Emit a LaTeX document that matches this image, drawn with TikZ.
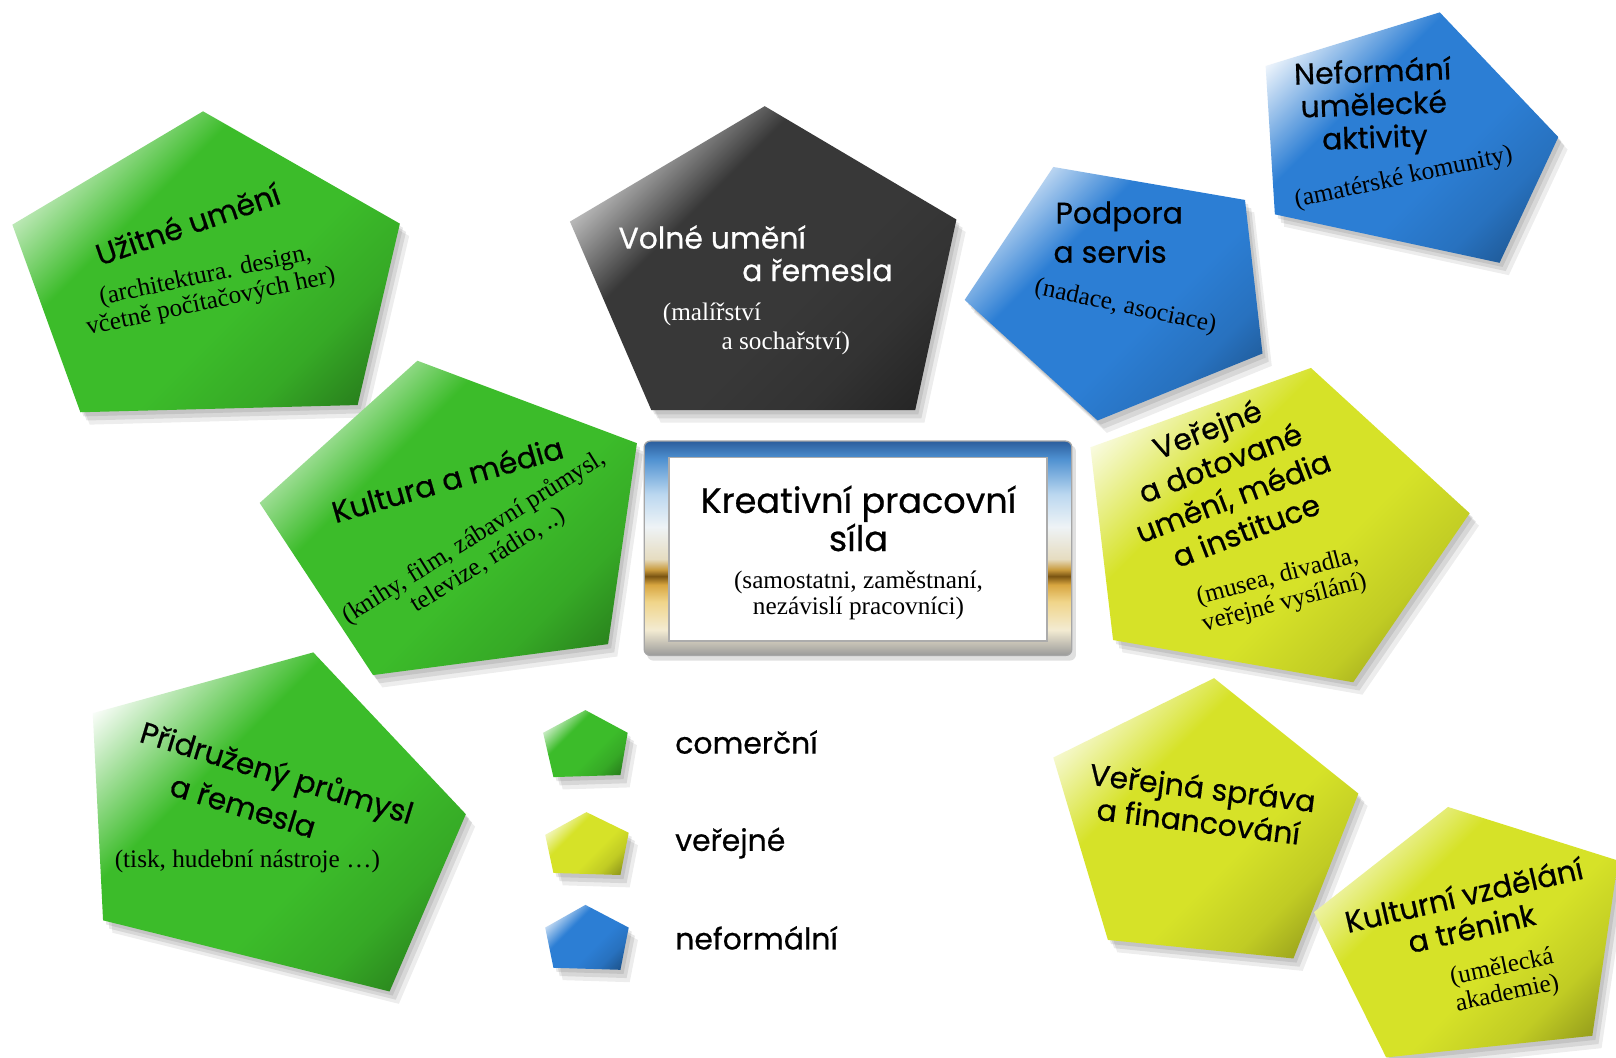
\documentclass[tikz,border=0pt]{standalone}
\usepackage{fontspec}
\setmainfont{Liberation Serif}
\newfontfamily\hfont{Poppins}[FakeBold=0.6]
\definecolor{cgreen}{RGB}{60,188,42}
\definecolor{cyellow}{RGB}{214,226,40}
\definecolor{cblue}{RGB}{44,126,212}
\definecolor{cdark}{RGB}{56,56,56}
\colorlet{pb}{cgreen}
\pgfdeclareverticalshading[pb]{glossy}{100bp}{color(0bp)=(pb!55!black); color(18bp)=(pb!65!black); color(30bp)=(pb!90!black); color(42bp)=(pb); color(62bp)=(pb); color(71bp)=(pb!50!white); color(80bp)=(white); color(100bp)=(white)}
\definecolor{fa}{HTML}{9A9A9A}
\definecolor{fb}{HTML}{F3EBD2}
\definecolor{fc}{HTML}{F0D58A}
\definecolor{fd}{HTML}{D8A640}
\definecolor{fe}{HTML}{7A5412}
\definecolor{ff}{HTML}{C89A3C}
\definecolor{fg}{HTML}{E6DCC0}
\definecolor{fh}{HTML}{EEF3F6}
\definecolor{fi}{HTML}{BCD8F0}
\definecolor{fj}{HTML}{4D8FD0}
\definecolor{fk}{HTML}{2B5E9C}
\pgfdeclareverticalshading{framesh}{100bp}{color(0bp)=(fa); color(25bp)=(fa); color(31bp)=(fb); color(37.5bp)=(fc); color(41.5bp)=(fd); color(43.5bp)=(fe); color(45bp)=(ff); color(47.5bp)=(fg); color(55bp)=(fh); color(62.5bp)=(fi); color(71bp)=(fj); color(75bp)=(fk); color(100bp)=(fk)}
\newcommand{\gpent}[2]{%
  \fill[black,opacity=.09,shift={(3,4)}] #2;
  \fill[black,opacity=.09,shift={(6,8)}] #2;
  \fill[black,opacity=.07,shift={(9,12)}] #2;
  \colorlet{pb}{#1}%
  \shade[shading=glossy,shading angle=45] #2;
}
\tikzset{
  head/.style={font=\hfont\fontsize{29}{33}\selectfont, align=center, inner sep=0pt},
  sub/.style={font=\fontsize{24.5}{26}\selectfont, align=center, inner sep=0pt},
}
\begin{document}
\begin{tikzpicture}[x=1pt,y=-1pt]
\useasboundingbox (0,0) rectangle (1568,1026);
\fill[white] (0,0) rectangle (1568,1026);

% pentagons
\gpent{cgreen}{(197,108)--(388,217)--(347,393)--(78,400)--(12,218)--cycle}
\gpent{cdark}{(742,103)--(928,213)--(888,398)--(632,398)--(553,215)--cycle}
\gpent{cblue}{(1022,162)--(1208,194)--(1225,343)--(1065,408)--(936,291)--cycle}
\gpent{cblue}{(1397,12)--(1512,133)--(1455,255)--(1237,208)--(1228,64)--cycle}
\gpent{cgreen}{(405,350)--(618,430)--(590,625)--(362,655)--(252,488)--cycle}
\gpent{cgreen}{(304,633)--(452,790)--(378,962)--(100,893)--(90,692)--cycle}
\gpent{cyellow}{(1272,357)--(1426,498)--(1313,662)--(1080,621)--(1058,434)--cycle}
\gpent{cyellow}{(1178,658)--(1318,770)--(1255,930)--(1075,912)--(1022,735)--cycle}
\gpent{cyellow}{(1405,783)--(1570,835)--(1545,1005)--(1345,1026)--(1275,885)--cycle}
% legend pentagons
\gpent{cgreen}{(568,689)--(609,711)--(602,752)--(537,754)--(527,711)--cycle}
\gpent{cyellow}{(569,788)--(610,808)--(602,849)--(537,847)--(529,810)--cycle}
\gpent{cblue}{(568,878)--(610,900)--(602,941)--(537,939)--(529,900)--cycle}

% central frame
\fill[black,opacity=.12,rounded corners=6] (628,432) rectangle (1044,641);
\shade[shading=framesh,rounded corners=6] (625,428) rectangle (1040,636);
\draw[gray!70,rounded corners=6,line width=1.2] (625,428) rectangle (1040,636);
\draw[fill=white,draw=gray!65,line width=1.6] (649,444) rectangle (1016,622);

% texts
\node[head,rotate=19] (uz1) at (182,217) {Užitné umění};
\node[sub,rotate=12] (uz2) at (202,281) {(architektura. design,\\včetně počítačových her)};

\node[head,white,anchor=west] (vo1) at (600,230) {Volné umění};
\node[head,white,anchor=west] (vo2) at (720,262) {a řemesla};
\node[sub,white,anchor=west] (vo3) at (643,305) {(malířství};
\node[sub,white,anchor=west] (vo4) at (700,333) {a sochařství)};

\node[head,anchor=west] (po1) at (1024,210) {Podpora};
\node[head,anchor=west] (po2) at (1022,244) {a servis};
\node[sub,rotate=-12] (po3) at (1092,298) {(nadace, asociace)};

\node[head,rotate=2,font=\hfont\fontsize{29}{32}\selectfont] (ne1) at (1333,104) {Neformání\\umělecké\\aktivity};
\node[sub,rotate=12] (ne2) at (1362,173) {(amatérské komunity)};

\node[head,rotate=16] (ku1) at (434,465) {Kultura a média};
\node[sub,rotate=32] (ku2) at (467,533) {(knihy, film, zábavní průmysl,\\televize, rádio, ..)};

\node[head,rotate=21,font=\hfont\fontsize{29}{35}\selectfont] (ve1) at (1190,465) {Veřejné\\a dotované\\umění, média\\a instituce};
\node[sub,rotate=15] (ve2) at (1243,573) {(musea, divadla,\\veřejné vysílání)};

\node[head,rotate=-17] (pr1) at (268,752) {Přidružený průmysl};
\node[head,rotate=-17] (pr2) at (236,782) {a řemesla};
\node[sub] (pr3) at (240,836) {(tisk, hudební nástroje …)};

\node[head,rotate=-7] (vs1) at (1165,780) {Veřejná správa\\a financování};

\node[head,rotate=13] (kv1) at (1424,884) {Kulturní vzdělání\\a trénink};
\node[sub,rotate=12] (kv2) at (1460,952) {(umělecká\\akademie)};

\node[head,font=\hfont\fontsize{34}{37}\selectfont] (kr1) at (833,503) {Kreativní pracovní\\síla};
\node[sub,font=\fontsize{24.5}{25}\selectfont] (kr2) at (833,578) {(samostatni, zaměstnaní,\\nezávislí pracovníci)};

\node[head,anchor=west] (lg1) at (655,720) {comerční};
\node[head,anchor=west] (lg2) at (655,818) {veřejné};
\node[head,anchor=west] (lg3) at (655,910) {neformální};
\end{tikzpicture}
\end{document}
